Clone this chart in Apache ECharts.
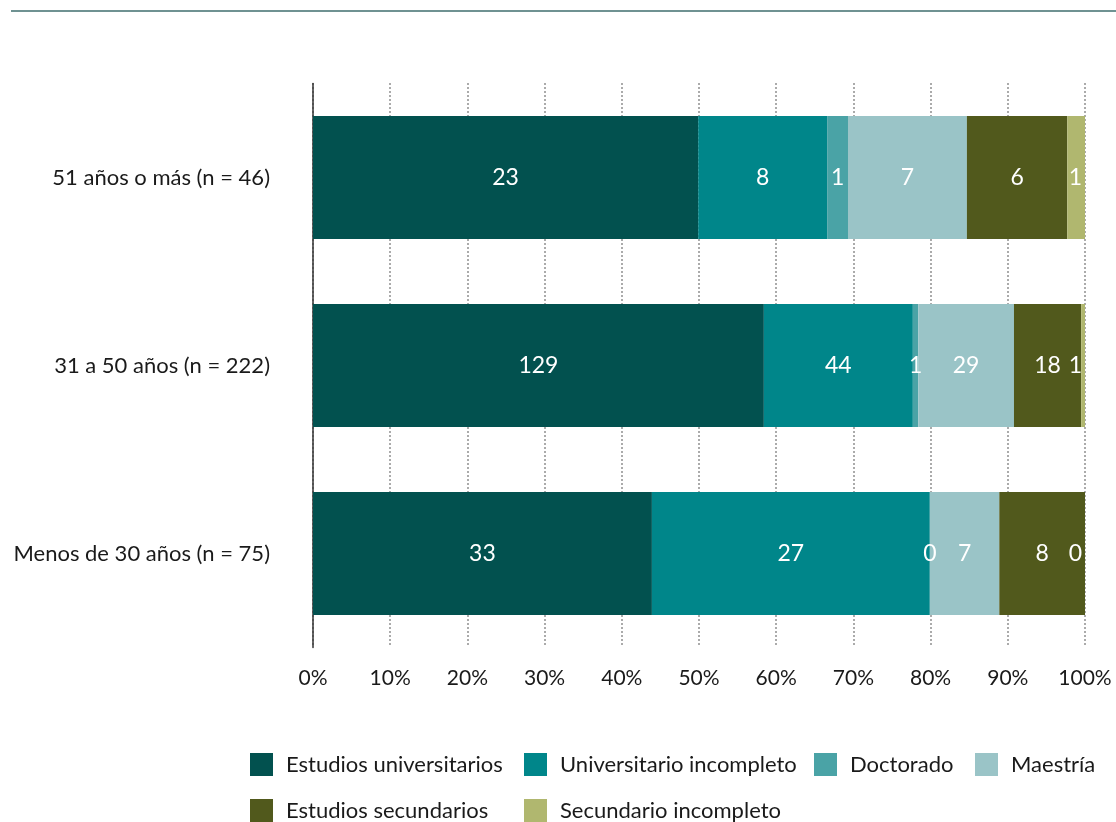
<!DOCTYPE html>
<html>
<head>
<meta charset="utf-8">
<script src="https://cdn.jsdelivr.net/npm/echarts@6/dist/echarts.min.js"></script>
<style>
html,body{margin:0;padding:0;background:#fff;}
#chart{width:1116px;height:822px;}
</style>
</head>
<body>
<div id="chart"></div>
<script>
// Categories (bottom to top as drawn by the category axis)
var categories = ['Menos de 30 años (n = 75)', '31 a 50 años (n = 222)', '51 años o más (n = 46)'];
var seriesNames = ['Estudios universitarios', 'Universitario incompleto', 'Doctorado', 'Maestría', 'Estudios secundarios', 'Secundario incompleto'];

// Share of each group (%)
var pctUniv    = [43.9, 58.4, 49.9];
var pctUnivInc = [36.0, 19.3, 16.7];
var pctDoct    = [0,    0.7,  2.7];
var pctMaes    = [9.0,  12.4, 15.4];
var pctSec     = [11.1, 8.7,  13.0];
var pctSecInc  = [0,    0.5,  2.3];

// Counts shown as labels
var nUniv    = [33, 129, 23];
var nUnivInc = [27, 44, 8];
var nDoct    = [0, 1, 1];
var nMaes    = [7, 29, 7];
var nSec     = [8, 18, 6];
var nSecInc  = [0, 1, 1];

var xTicks = [0, 10, 20, 30, 40, 50, 60, 70, 80, 90, 100];

var colors = ['#02514f', '#00868a', '#4aa3a6', '#9ac4c7', '#51591c', '#b0b76f'];
var pcts = [pctUniv, pctUnivInc, pctDoct, pctMaes, pctSec, pctSecInc];
var counts = [nUniv, nUnivInc, nDoct, nMaes, nSec, nSecInc];

var FONT = 'Lato';

var series = seriesNames.map(function (name, i) {
  var last = (i === seriesNames.length - 1);
  return {
    name: name,
    type: 'bar',
    stack: 'total',
    barWidth: 123,
    itemStyle: { color: colors[i] },
    label: {
      show: true,
      position: last ? 'insideRight' : 'inside',
      distance: 3,
      color: '#ffffff',
      fontFamily: FONT,
      fontSize: 23,
      formatter: function (p) { return String(counts[i][p.dataIndex]); }
    },
    emphasis: { disabled: true },
    data: pcts[i]
  };
});

var legendPos = [
  { left: 250, top: 753 }, { left: 524, top: 753 }, { left: 814, top: 753 }, { left: 975, top: 753 },
  { left: 250, top: 799 }, { left: 524, top: 799 }
];
var legends = seriesNames.map(function (name, i) {
  return {
    data: [name],
    left: legendPos[i].left,
    top: legendPos[i].top,
    padding: 0,
    icon: 'rect',
    itemWidth: 23,
    itemHeight: 23,
    selectedMode: false,
    textStyle: { fontFamily: FONT, fontSize: 22, color: '#1a1a1a', padding: [0, 0, 0, 8] }
  };
});

var chart = echarts.init(document.getElementById('chart'), null, { renderer: 'canvas' });
chart.setOption({
  animation: false,
  backgroundColor: '#ffffff',
  textStyle: { fontFamily: FONT },
  grid: { left: 313, right: 31, top: 83.5, bottom: 174.5, containLabel: false },
  legend: legends,
  graphic: [{
    type: 'line',
    shape: { x1: 11, y1: 11, x2: 1116, y2: 11 },
    style: { stroke: '#3f6e6e', lineWidth: 1.5 }
  }],
  xAxis: {
    type: 'value',
    min: xTicks[0],
    max: xTicks[xTicks.length - 1],
    interval: 10,
    axisLine: { show: false },
    axisTick: { show: false },
    axisLabel: {
      fontFamily: FONT, fontSize: 21, color: '#1a1a1a', margin: 20,
      formatter: function (v) { return v + '%'; }
    },
    splitLine: { show: true, lineStyle: { type: [1, 3], color: '#222', width: 1.5 } }
  },
  yAxis: {
    type: 'category',
    data: categories,
    axisLine: { show: true, lineStyle: { color: '#333', width: 1.5 } },
    axisTick: { show: false },
    axisLabel: { fontFamily: FONT, fontSize: 22, color: '#1a1a1a', margin: 43 }
  },
  series: series
});
</script>
</body>
</html>
